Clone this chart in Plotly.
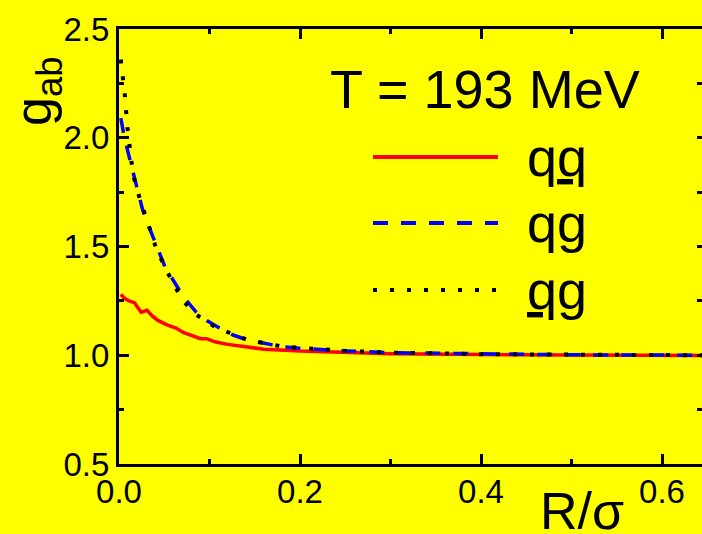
import plotly.graph_objects as go

# ---- data ----
R_qqbar = [0.002, 0.006, 0.011, 0.017, 0.0245, 0.031, 0.037, 0.043, 0.053, 0.063, 0.071, 0.082,
           0.09, 0.097, 0.106, 0.12, 0.137, 0.16, 0.2, 0.25, 0.3, 0.4, 0.5, 0.645]
g_qqbar = [1.28, 1.262, 1.25, 1.242, 1.198, 1.207, 1.18, 1.16, 1.14, 1.125, 1.105, 1.09,
           1.076, 1.076, 1.062, 1.05, 1.039, 1.028, 1.019, 1.012, 1.007, 1.003, 1.001, 0.999]

R_qg = [0.002, 0.006, 0.012, 0.0195, 0.026, 0.036, 0.051, 0.071, 0.085, 0.097, 0.111, 0.126,
        0.142, 0.159, 0.18, 0.197, 0.25, 0.3, 0.4, 0.5, 0.645]
g_qg = [2.09, 2.0, 1.90, 1.775, 1.67, 1.56, 1.405, 1.27, 1.2, 1.16, 1.125, 1.093,
        1.07, 1.056, 1.04, 1.033, 1.02, 1.012, 1.005, 1.002, 1.0]

R_qbarg = [0.002, 0.0045, 0.0066, 0.009, 0.012, 0.0155, 0.023, 0.029, 0.042, 0.0586, 0.0707,
           0.086, 0.106, 0.1425, 0.18, 0.25, 0.3, 0.4, 0.5, 0.645]
g_qbarg = [2.36, 2.27, 2.19, 2.06, 1.95, 1.83, 1.72, 1.64, 1.48, 1.34, 1.25,
           1.185, 1.13, 1.07, 1.04, 1.02, 1.012, 1.005, 1.002, 1.0]

x_ticks = [0.0, 0.2, 0.4, 0.6]
x_ticklabels = ["0.0", "0.2", "0.4", "0.6"]
y_ticks = [0.5, 1.0, 1.5, 2.0, 2.5]
y_ticklabels = ["0.5", "1.0", "1.5", "2.0", "2.5"]

legend_labels = ["q<u>q</u>", "qg", "<u>q</u>g"]
title_text = "T = 193 MeV"

FONT = "Liberation Sans, Arial, sans-serif"
YELLOW = "#FFFF00"

fig = go.Figure()
fig.add_trace(go.Scatter(x=R_qqbar, y=g_qqbar, mode="lines",
                         line=dict(color="#FF0000", width=3.5), showlegend=False))
fig.add_trace(go.Scatter(x=R_qg, y=g_qg, mode="lines",
                         line=dict(color="#0000FF", width=3.5, dash="15px,13px"), showlegend=False))
fig.add_trace(go.Scatter(x=R_qbarg, y=g_qbarg, mode="lines",
                         line=dict(color="#000000", width=4, dash="4px,13px"), showlegend=False))
# invisible trace to carry the right-hand tick axis
fig.add_trace(go.Scatter(x=[0.3], y=[1.0], yaxis="y2", mode="lines",
                         line=dict(width=0), showlegend=False, hoverinfo="skip"))

L, T, B = 119, 29, 70
W, H = 702, 534
pw, ph = W - L, H - T - B

def px_x(px):
    return (px - L) / pw

def px_y(py):
    return (H - B - py) / ph

fig.update_layout(
    width=W, height=H,
    margin=dict(l=L, r=0, t=T, b=B, pad=0),
    paper_bgcolor=YELLOW, plot_bgcolor=YELLOW,
    font=dict(family=FONT, color="black"),
    showlegend=False,
    xaxis=dict(range=[0, 0.6442], tickvals=x_ticks, ticktext=x_ticklabels,
               ticks="inside", ticklen=10, tickwidth=3, tickcolor="black",
               minor=dict(dtick=0.1, tick0=0, ticks="inside", ticklen=5, tickwidth=3, tickcolor="black"),
               showline=True, linewidth=3, linecolor="black", mirror="ticks",
               showgrid=False, zeroline=False, ticklabelstandoff=-4,
               tickfont=dict(size=33, family=FONT, color="black")),
    yaxis=dict(range=[0.5, 2.5], tickvals=y_ticks, ticktext=y_ticklabels,
               ticks="inside", ticklen=10, tickwidth=3, tickcolor="black",
               minor=dict(dtick=0.25, tick0=0.5, ticks="inside", ticklen=5, tickwidth=3, tickcolor="black"),
               showline=True, linewidth=3, linecolor="black",
               showgrid=False, zeroline=False,
               tickfont=dict(size=33, family=FONT, color="black")),
    yaxis2=dict(range=[0.5, 2.5], overlaying="y", side="right", anchor="x",
                dtick=0.25, tick0=0.5, ticks="inside", ticklen=5, tickwidth=3, tickcolor="black",
                showticklabels=False, showline=False, showgrid=False, zeroline=False),
)

def note(px, py, text, size, angle=0, xanchor="center"):
    fig.add_annotation(xref="paper", yref="paper", x=px_x(px), y=px_y(py),
                       xanchor=xanchor, yanchor="middle", text=text, textangle=angle,
                       showarrow=False, font=dict(size=size, family=FONT, color="black"))

# axis titles
note(37, 92, "g<sub>ab</sub>", 52, angle=-90)
note(582, 511, "R/σ", 52)

# title
note(328, 89, title_text, 54, xanchor="left")

# hand-drawn legend
leg_y = [157, 223, 290]
leg_styles = [dict(color="#FF0000", width=4, dash="solid"),
              dict(color="#0000FF", width=4, dash="15px,13px"),
              dict(color="#000000", width=4, dash="4px,13px")]
for yy, lab, st in zip(leg_y, legend_labels, leg_styles):
    fig.add_shape(type="line", xref="paper", yref="paper",
                  x0=px_x(373), x1=px_x(498), y0=px_y(yy), y1=px_y(yy), line=st)
    note(525, yy, lab, 54, xanchor="left")

fig.write_html("out.html")
